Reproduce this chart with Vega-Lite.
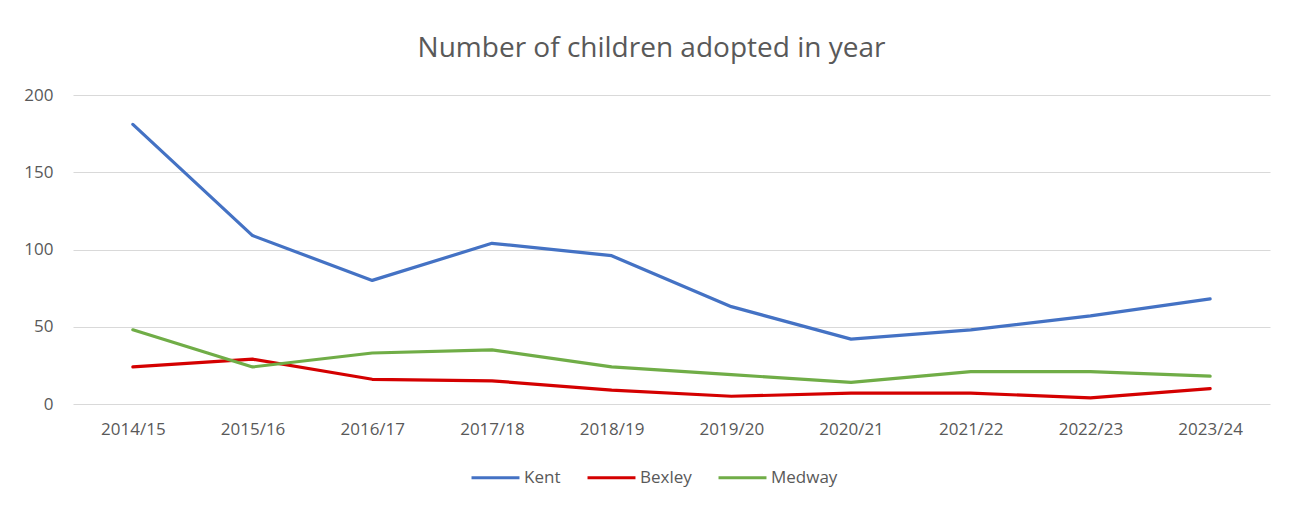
{
  "$schema": "https://vega.github.io/schema/vega-lite/v6.json",
  "width": 1197,
  "height": 309,
  "autosize": {"type": "none"},
  "padding": {"left": 73, "top": 95, "right": 35, "bottom": 102},
  "background": "white",
  "title": {
    "text": "Number of children adopted in year",
    "font": "Open Sans",
    "fontSize": 28,
    "fontWeight": "normal",
    "color": "#595959",
    "anchor": "middle",
    "dx": -20,
    "offset": 23
  },
  "config": {
    "view": {"stroke": null},
    "font": "Open Sans"
  },
  "data": {
    "values": [
      {"year": "2014/15", "la": "Kent", "n": 181},
      {"year": "2015/16", "la": "Kent", "n": 109},
      {"year": "2016/17", "la": "Kent", "n": 80},
      {"year": "2017/18", "la": "Kent", "n": 104},
      {"year": "2018/19", "la": "Kent", "n": 96},
      {"year": "2019/20", "la": "Kent", "n": 63},
      {"year": "2020/21", "la": "Kent", "n": 42},
      {"year": "2021/22", "la": "Kent", "n": 48},
      {"year": "2022/23", "la": "Kent", "n": 57},
      {"year": "2023/24", "la": "Kent", "n": 68},
      {"year": "2014/15", "la": "Bexley", "n": 24},
      {"year": "2015/16", "la": "Bexley", "n": 29},
      {"year": "2016/17", "la": "Bexley", "n": 16},
      {"year": "2017/18", "la": "Bexley", "n": 15},
      {"year": "2018/19", "la": "Bexley", "n": 9},
      {"year": "2019/20", "la": "Bexley", "n": 5},
      {"year": "2020/21", "la": "Bexley", "n": 7},
      {"year": "2021/22", "la": "Bexley", "n": 7},
      {"year": "2022/23", "la": "Bexley", "n": 4},
      {"year": "2023/24", "la": "Bexley", "n": 10},
      {"year": "2014/15", "la": "Medway", "n": 48},
      {"year": "2015/16", "la": "Medway", "n": 24},
      {"year": "2016/17", "la": "Medway", "n": 33},
      {"year": "2017/18", "la": "Medway", "n": 35},
      {"year": "2018/19", "la": "Medway", "n": 24},
      {"year": "2019/20", "la": "Medway", "n": 19},
      {"year": "2020/21", "la": "Medway", "n": 14},
      {"year": "2021/22", "la": "Medway", "n": 21},
      {"year": "2022/23", "la": "Medway", "n": 21},
      {"year": "2023/24", "la": "Medway", "n": 18}
    ]
  },
  "mark": {"type": "line", "strokeWidth": 3.2, "strokeCap": "round", "strokeJoin": "round"},
  "encoding": {
    "x": {
      "field": "year",
      "type": "ordinal",
      "scale": {"type": "point", "padding": 0.5},
      "axis": {
        "title": null,
        "labelAngle": 0,
        "labelFont": "Open Sans",
        "labelFontSize": 17,
        "labelColor": "#595959",
        "labelPadding": 17,
        "domain": false,
        "ticks": false,
        "grid": false
      }
    },
    "y": {
      "field": "n",
      "type": "quantitative",
      "scale": {"domain": [0, 200], "nice": false},
      "axis": {
        "title": null,
        "values": [0, 50, 100, 150, 200],
        "labelFont": "Open Sans",
        "labelFontSize": 17,
        "labelColor": "#595959",
        "labelPadding": 20,
        "domain": false,
        "ticks": false,
        "grid": true,
        "gridColor": "#d9d9d9",
        "gridWidth": 1
      }
    },
    "color": {
      "field": "la",
      "type": "nominal",
      "sort": ["Kent", "Bexley", "Medway"],
      "scale": {"domain": ["Kent", "Bexley", "Medway"], "range": ["#4472C4", "#D40000", "#70AD47"]},
      "legend": {
        "title": null,
        "orient": "none",
        "direction": "horizontal",
        "legendX": 397,
        "legendY": 357,
        "symbolType": "stroke",
        "symbolStrokeWidth": 3,
        "symbolSize": 2300,
        "labelFont": "Open Sans",
        "labelFontSize": 17,
        "labelColor": "#595959",
        "labelOffset": 3,
        "columnPadding": 20
      }
    }
  }
}
